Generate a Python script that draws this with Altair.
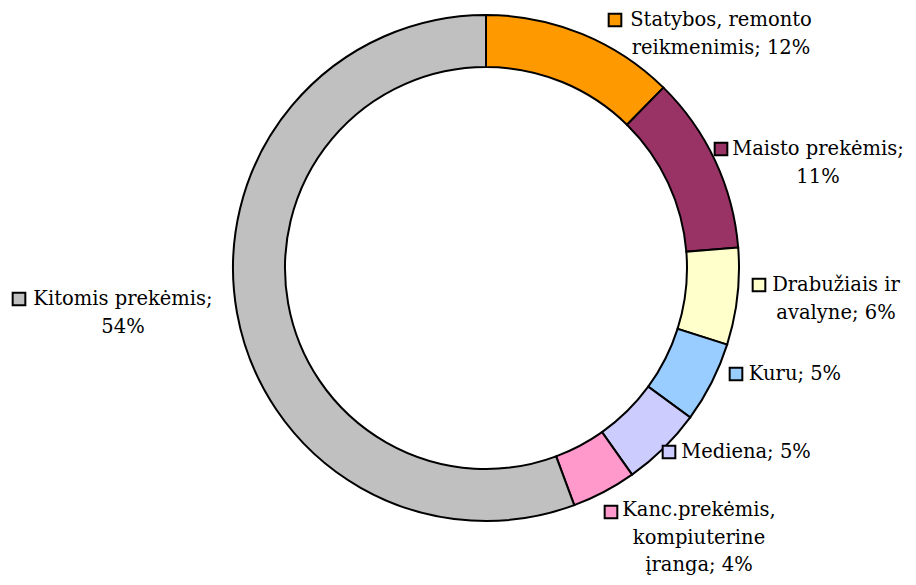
import altair as alt
import pandas as pd

# ---- data ----
categories = [
    "Statybos, remonto reikmenimis",
    "Maisto prekėmis",
    "Drabužiais ir avalyne",
    "Kuru",
    "Mediena",
    "Kanc.prekėmis, kompiuterine įranga",
    "Kitomis prekėmis",
]
values = [12, 11, 6, 5, 5, 4, 54]
colors = ["#FF9900", "#993366", "#FFFFCC", "#99CCFF", "#CCCCFF", "#FF99CC", "#C0C0C0"]
label_lines = [
    ["Statybos, remonto", "reikmenimis; 12%"],
    ["Maisto prekėmis;", "11%"],
    ["Drabužiais ir", "avalyne; 6%"],
    ["Kuru; 5%"],
    ["Mediena; 5%"],
    ["Kanc.prekėmis,", "kompiuterine", "įranga; 4%"],
    ["Kitomis prekėmis;", "54%"],
]

# ---- layout (view pixel coordinates) ----
CX, CY = 478, 260
R_OUT, R_IN = 253, 201
LINE_H = 27.5
label_anchor = [(713, 12), (810, 141), (828, 277), (787, 366), (738, 444), (691, 502), (115, 291)]
key_pos = [(607, 12), (713, 141), (751, 277), (728, 366), (661, 444), (603, 504), (11, 291)]
FONT = "DejaVu Serif"
FS = 19.5

df = pd.DataFrame({"category": categories, "value": values, "idx": list(range(len(values)))})

rows = []
for cat, lines, (ax, ay) in zip(categories, label_lines, label_anchor):
    for i, ln in enumerate(lines):
        rows.append({"category": cat, "text": ln, "px": ax, "py": ay + i * LINE_H})
lab = pd.DataFrame(rows)
keys = pd.DataFrame({"category": categories, "px": [p[0] for p in key_pos], "py": [p[1] for p in key_pos]})

scale = alt.Scale(domain=categories, range=colors)

arcs = alt.Chart(df).mark_arc(
    outerRadius=R_OUT, innerRadius=R_IN, stroke="black", strokeWidth=2
).encode(
    theta=alt.Theta("value:Q", stack=True),
    order=alt.Order("idx:Q"),
    color=alt.Color("category:N", scale=scale, legend=None),
    x=alt.value(CX),
    y=alt.value(CY),
)

key = alt.Chart(keys).mark_point(
    shape="square", filled=True, size=160, stroke="black", strokeWidth=2, opacity=1
).encode(
    x=alt.X("px:Q", scale=None, axis=None),
    y=alt.Y("py:Q", scale=None, axis=None),
    fill=alt.Fill("category:N", scale=scale, legend=None),
)

text = alt.Chart(lab).mark_text(
    font=FONT, fontSize=FS, align="center", baseline="middle", color="black"
).encode(
    x=alt.X("px:Q", scale=None, axis=None),
    y=alt.Y("py:Q", scale=None, axis=None),
    text="text:N",
)

chart = alt.layer(arcs, key, text).properties(
    width=900, height=569, padding=0, autosize="none"
).configure_view(stroke=None)

chart.save("out.html", embed_options={"renderer": "svg", "actions": False})
